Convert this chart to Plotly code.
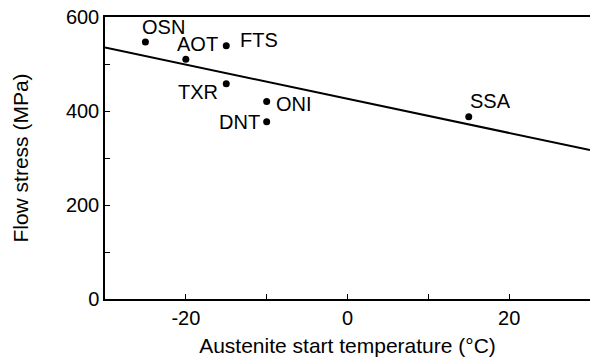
import plotly.graph_objects as go

# Data
alloys = ["OSN", "AOT", "FTS", "TXR", "ONI", "DNT", "SSA"]
as_temp = [-25, -20, -15, -15, -10, -10, 15]
flow_stress = [547, 510, 539, 458, 420, 377, 388]
fit_x = [-30, 30]
fit_y = [535, 317]
x_tickvals = [-20, -10, 0, 10, 20]
x_ticktext = ["-20", "", "0", "", "20"]
y_tickvals = [0, 100, 200, 300, 400, 500, 600]
y_ticktext = ["0", "", "200", "", "400", "", "600"]

# label offsets in pixels (styling)
label_dx = [18, 12, 33, -28, 27, -27, 22]
label_dy = [15, 15, 6, -8, -2, 0, 16]

FAM = "Liberation Sans, Arial"

fig = go.Figure()
fig.add_trace(go.Scatter(x=fit_x, y=fit_y, mode="lines",
                         line=dict(color="black", width=2), showlegend=False))
fig.add_trace(go.Scatter(x=as_temp, y=flow_stress, mode="markers",
                         marker=dict(color="black", size=7), showlegend=False))

for name, x, y, dx, dy in zip(alloys, as_temp, flow_stress, label_dx, label_dy):
    fig.add_annotation(x=x, y=y, text=name, showarrow=False,
                       xshift=dx, yshift=dy,
                       font=dict(family=FAM, size=20, color="black"))

fig.update_layout(
    width=590, height=363,
    margin=dict(l=105, r=0, t=17, b=64),
    paper_bgcolor="white", plot_bgcolor="white",
    font=dict(family=FAM, size=20, color="black"),
    xaxis=dict(range=[-30, 30], tickvals=x_tickvals, ticktext=x_ticktext,
               ticks="inside", ticklen=5, tickcolor="black", tickwidth=1.2,
               tickfont=dict(family=FAM, size=20, color="black"),
               showline=True, linecolor="black", linewidth=1.5,
               showgrid=False, zeroline=False,
               title=dict(text="Austenite start temperature (°C)", standoff=11,
                          font=dict(family=FAM, size=21, color="black"))),
    xaxis2=dict(range=[-30, 30], overlaying="x", side="top", showticklabels=False,
                showline=True, linecolor="black", linewidth=1.5, showgrid=False, zeroline=False),
    yaxis=dict(range=[0, 600], tickvals=y_tickvals, ticktext=y_ticktext,
               ticks="inside", ticklen=5, tickcolor="black", tickwidth=1.2,
               tickfont=dict(family=FAM, size=20, color="black"),
               showline=True, linecolor="black", linewidth=1.5,
               showgrid=False, zeroline=False,
               title=dict(text="Flow stress (MPa)", standoff=32,
                          font=dict(family=FAM, size=21, color="black"))),
)
fig.add_trace(go.Scatter(x=[None], y=[None], xaxis="x2", showlegend=False))

fig.write_html("out.html")
